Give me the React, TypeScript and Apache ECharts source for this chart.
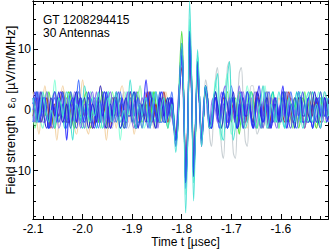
import React, { useEffect, useRef } from "react";
import * as echarts from "echarts";

const FONT = '"Liberation Sans", Arial, Helvetica, sans-serif';

const T0 = -2.1;
const DT = 0.004;
const XMIN = -2.1;
const XMAX = -1.505;
const YMIN = -18;
const YMAX = 18;

const X_MAJOR = [-2.1, -2.0, -1.9, -1.8, -1.7, -1.6];
const X_MINOR = [-2.08, -2.06, -2.04, -2.02, -1.98, -1.96, -1.94, -1.92, -1.88, -1.86, -1.84, -1.82, -1.78, -1.76, -1.74, -1.72, -1.68, -1.66, -1.64, -1.62, -1.58, -1.56, -1.54, -1.52];
const Y_MAJOR = [-10, 0, 10];
const Y_MINOR = [-17.5, -15, -12.5, -7.5, -5, -2.5, 2.5, 5, 7.5, 12.5, 15, 17.5];

const TITLE_1 = "GT 1208294415";
const TITLE_2 = "30 Antennas";

const ant01 = [
  1,3,1,-2,-1,2,2,-1,-3,-2,1,0,-2,1,3,2,-1,-5,-1,1,2,0,-2,1,2,-1,-2,0,3,1,
  -2,-3,0,2,1,-1,1,3,0,-3,-2,2,1,-1,0,2,-1,-2,1,3,2,-2,-3,0,1,-1,2,5,1,-3,
  -1,1,-1,-2,2,3,0,-2,-1,1,2,-2,-5,-1,3,9,2,-12,-3,12,2,-10,-1,7,0,-5,-1,4,1,-2,
  -3,1,2,-1,-2,1,3,0,-3,-1,2,1,-2,-3,1,3,1,-1,0,2,-1,-3,-1,2,4,1,-2,-1,1,-2,
  -3,0,2,1,-1,2,4,-1,-3,-1,1,0,-2,1,3,1,-2,-2,1,2,-1,-3,0,2,1,-1,1,2,-2,-1,
];
const ant02 = [
  -1,-2,1,2,0,-1,1,3,1,-2,-3,0,2,1,-1,-2,1,2,-1,-2,0,3,2,-1,-3,-1,1,0,-1,2,
  3,0,-2,-1,1,-1,-3,0,2,3,1,-2,-1,1,0,-2,-1,2,3,0,-1,1,-1,-3,-1,2,1,-1,1,3,
  1,-2,-3,0,2,1,-1,-2,1,2,-1,-3,-4,1,5,8,-1,-10,-2,11,3,-9,-2,6,1,-4,1,3,-1,-3,
  1,2,0,-2,1,3,-1,-3,-1,2,1,-1,-2,1,4,1,-3,-2,1,0,-1,2,3,0,-2,-3,1,2,0,-1,
  2,1,-2,-3,0,1,-1,1,3,2,-1,-2,0,-1,1,2,-1,-3,-1,2,3,0,-2,-1,1,-1,-2,1,2,0,
];
const ant03 = [
  2,0,-2,-1,1,3,1,-1,-2,0,-1,-3,0,2,1,-1,1,3,2,-2,-5,-1,1,0,-2,1,4,2,-1,-2,
  0,-1,1,3,0,-3,-2,1,2,-1,-2,1,3,1,-2,-1,0,-2,1,5,2,-2,-3,0,1,-1,1,2,-1,-3,
  -1,2,3,0,-2,1,2,-1,-3,-1,1,-2,-7,-3,5,11,2,-17,-5,18,5,-15,-3,10,2,-6,-1,4,1,-3,
  -2,2,4,6,0,-4,-5,0,5,8,1,-5,-3,0,3,2,-1,-3,-2,1,3,1,-2,-3,0,2,4,1,-3,-2,
  1,0,-2,1,3,1,-2,-3,0,2,1,-1,-2,1,3,0,-3,-2,2,3,-1,-2,0,1,-1,-3,1,3,2,-1,
];
const ant04 = [
  -1,1,3,2,-2,-3,0,1,-1,-2,2,5,1,-2,-1,1,-1,-3,0,3,2,-1,-2,0,2,1,-2,-3,1,3,
  2,-1,-1,1,-1,-3,-1,2,3,0,-2,1,2,-1,-5,-2,1,3,1,-1,0,-2,-1,2,4,1,-3,-2,0,2,
  1,-1,-3,0,3,1,-2,-1,2,0,-1,-3,-5,-1,6,10,1,-14,-5,15,4,-12,-2,9,1,-5,0,4,2,-3,
  -3,1,5,2,-3,-5,0,4,6,1,-4,-3,0,2,1,-2,-3,1,4,2,-1,-3,-1,1,0,-2,2,4,0,-3,
  -2,1,2,-1,-3,0,3,2,-1,-1,1,-1,-3,0,2,3,-1,-2,1,2,-1,-3,-2,1,3,1,-1,0,2,-1,
];
const ant05 = [
  0,-2,-1,1,2,0,-1,1,3,1,-2,-3,-1,2,1,-1,-2,1,3,2,-2,-3,0,1,-1,-1,2,3,-1,-3,
  -1,1,0,-2,1,3,1,-2,-3,0,2,1,-1,1,2,-1,-3,-2,1,2,0,-1,2,3,0,-2,-1,1,-1,-2,
  1,3,1,-2,-2,1,2,-1,-3,0,2,-1,-5,-3,7,13,3,-11,-4,10,5,-9,-4,7,2,-4,-1,3,2,-2,
  -2,0,2,1,-1,-3,-1,2,3,0,-2,1,2,-1,-4,-1,1,0,-2,1,3,2,-2,-3,0,1,-1,2,3,0,
  -2,-1,1,-1,-3,0,2,3,0,-2,-1,1,2,-1,-3,-1,2,1,-1,1,3,1,-2,-3,0,2,0,-1,1,2,
];
const ant06 = [
  -1,1,2,0,-2,-1,1,2,-1,-3,-1,1,0,-1,2,3,1,-2,-2,0,1,-1,-2,1,2,0,-1,1,2,-1,
  -3,-2,1,2,1,-1,0,2,-1,-3,-1,2,2,-1,-1,1,0,-2,1,3,1,-2,-3,-1,1,0,-1,2,3,0,
  -2,-1,1,-1,-2,1,3,1,-2,-1,1,-2,-4,-1,4,7,1,-9,-3,9,3,-8,-2,6,1,-4,-1,3,1,-2,
  -2,1,2,-1,-2,1,2,0,-2,-1,1,0,-2,1,3,1,-2,-2,0,1,-1,-2,1,3,1,-1,0,2,-1,-3,
  -1,1,2,0,-1,1,-1,-2,1,3,1,-2,-1,0,2,1,-1,-3,-1,2,1,-1,1,2,-1,-2,0,2,1,-1,
];
const ant07 = [
  1,-1,-2,1,3,1,-2,-1,1,-1,-3,0,2,1,-1,1,3,0,-2,-3,0,2,1,-1,-1,1,-1,-2,1,3,
  1,-2,-1,1,0,-2,1,3,2,-2,-3,0,1,0,-1,2,3,0,-3,-2,1,2,-1,-2,0,2,1,-1,1,3,
  0,-3,-2,1,2,-1,-1,1,-1,-2,1,-2,-5,-2,4,8,2,-10,-4,10,4,-9,-3,7,2,-5,-2,5,3,-4,
  -6,-1,5,7,1,-6,-8,-1,7,8,0,-7,-8,-1,6,7,1,-5,-6,0,4,4,-1,-4,-3,2,4,1,-3,-3,
  0,2,1,-1,-2,1,3,1,-2,-3,0,1,-1,1,3,1,-2,-2,1,2,-1,-3,-1,2,1,-1,1,3,0,-2,
];
const ant08 = [
  3,1,-2,-4,-1,2,4,1,-2,-1,1,-2,-5,-2,2,4,2,-1,1,3,0,-3,-4,-1,2,5,2,-3,-4,0,
  2,1,-1,1,4,2,-2,-5,-2,1,2,-1,-3,0,3,4,1,-2,-1,1,-1,-4,-2,2,4,1,-2,-1,2,3,
  0,-3,-2,1,0,-2,1,3,1,-2,0,-3,-5,-2,4,8,1,-10,-3,10,3,-8,-2,6,1,-4,-1,3,2,-3,
  -2,1,3,1,-1,0,2,-1,-3,-1,2,1,-1,-2,1,3,1,-2,-3,0,2,0,-1,1,2,-1,-3,-1,1,2,
  1,-1,-2,0,2,1,-1,1,3,0,-2,-3,0,1,-1,-2,1,3,1,-1,0,2,-1,-3,-1,1,2,0,-2,1,
];
const ant09 = [
  -2,1,3,1,-1,0,2,-1,-3,-2,1,2,-1,-1,1,3,0,-3,-1,1,-1,-2,2,5,1,-2,-1,1,0,-2,
  1,2,-1,-3,-1,2,3,0,-2,-1,1,-1,-2,1,3,1,-2,-3,0,2,1,-1,1,2,-1,-3,-1,2,1,0,
  -2,1,3,1,-2,-2,0,1,-1,1,3,-1,-6,-2,5,10,2,-13,-4,13,4,-11,-3,8,2,-5,-1,4,1,-3,
  -1,2,3,-1,-3,-1,1,0,-2,1,4,2,-2,-3,0,1,-1,1,3,1,-2,-3,-1,2,1,-1,1,3,0,-3,
  -2,1,2,-1,-2,0,2,1,-1,1,3,1,-2,-3,-1,2,1,-1,1,2,-1,-3,-1,1,2,0,-1,1,-1,-2,
];
const ant10 = [
  1,2,-1,-2,0,2,1,-1,-3,-1,2,3,0,-1,1,-1,-3,-1,2,1,-1,1,3,1,-2,-3,0,1,-1,1,
  2,-1,-3,-1,1,0,-2,1,3,1,-1,0,2,-1,-3,-2,1,2,0,-1,1,3,1,-2,-2,0,1,-1,-2,1,
  3,1,-2,-1,1,-1,-2,1,2,-1,1,-1,-5,-2,5,9,1,-12,-4,14,4,-12,-3,9,2,-5,-1,4,1,-2,
  -3,0,2,1,-1,1,3,0,-3,-2,1,2,-1,-1,1,-1,-3,0,3,2,-1,-2,1,2,-1,-3,-1,1,0,-1,
  2,3,0,-2,-1,1,-1,-3,0,2,1,-1,1,3,0,-2,-1,1,-1,-2,1,3,1,-2,-2,1,2,-1,-1,1,
];
const ant11 = [
  -2,-1,1,3,1,-2,-2,0,1,-1,1,3,0,-3,-2,1,2,-1,-1,1,-1,-2,1,3,2,-1,-3,-1,1,0,
  -1,1,3,0,-2,-1,1,-1,-3,0,2,2,-1,-1,1,-1,-2,1,3,1,-2,-3,0,2,1,-1,1,3,0,-2,
  -1,1,-1,-3,0,2,1,-1,1,2,-1,-2,-4,0,5,9,1,-11,-3,11,3,-10,-3,7,1,-4,0,3,2,-2,
  -2,1,2,-1,-3,0,3,4,0,-2,-1,1,-1,-3,-1,2,3,0,-2,1,2,-1,-3,-1,1,0,-1,2,3,0,
  -2,-2,1,2,-1,-1,1,-1,-3,0,2,1,-1,1,3,1,-2,-2,1,2,-1,-3,-1,2,1,-1,1,2,-1,-2,
];
const ant12 = [
  1,-1,-2,1,2,0,-1,1,-1,-2,1,2,0,-2,-1,1,2,-1,-2,0,1,-1,1,2,0,-2,-1,1,0,-1,
  2,1,-1,-2,1,2,-1,-2,0,1,-1,1,2,0,-2,-1,1,-1,-2,1,2,1,-1,-2,0,1,0,-1,1,2,
  -1,-2,0,1,-1,1,2,0,-2,-1,0,-2,-4,-1,4,7,1,-8,-2,8,2,-7,-2,5,1,-3,0,3,1,-2,
  -1,1,2,0,-2,-1,1,-1,-2,1,2,0,-2,-1,1,2,-1,-2,0,1,-1,1,2,0,-2,-1,1,-1,-2,1,
  2,0,-1,1,-1,-2,1,2,0,-2,-1,1,2,-1,-2,0,1,-1,1,2,0,-2,-1,1,0,-1,2,1,-1,-2,
];
const ant13 = [
  0,2,3,0,-2,-1,1,-1,-3,-1,2,3,1,-2,-1,1,-1,-2,1,3,1,-2,-3,0,2,1,-1,1,2,-1,
  -3,-1,1,0,-2,1,3,2,-1,-2,0,-1,1,3,1,-2,-3,-1,1,0,-2,1,3,1,-2,-1,1,-1,-3,0,
  2,1,-1,1,3,0,-2,-2,1,2,1,-3,-6,-2,5,10,2,-12,-4,12,4,-10,-3,7,2,-5,-1,3,2,-2,
  -3,-1,2,1,-1,1,3,0,-3,-2,1,2,-1,-1,1,-1,-3,0,3,2,-1,-2,0,2,1,-1,-3,-1,2,3,
  0,-2,-1,1,-1,-2,1,3,1,-2,-3,0,2,1,-1,1,3,1,-2,-2,0,1,-1,-2,1,3,1,-1,0,2,
];
const ant14 = [
  -1,-3,-1,1,0,-1,2,3,0,-2,-1,1,-1,-2,1,3,1,-2,-2,0,1,-1,1,3,1,-2,-3,0,2,1,
  -1,1,2,-1,-3,-1,1,0,-2,1,3,1,-2,-1,1,-1,-2,1,2,0,-2,-1,1,2,-1,-3,-1,2,1,-1,
  1,3,0,-2,-1,1,-1,-2,1,2,0,-1,-4,-2,5,10,2,-10,-3,11,3,-9,-2,6,1,-4,-1,3,1,-3,
  -1,1,3,1,-2,-3,0,2,1,-1,1,2,-1,-3,-1,1,0,-2,1,3,1,-2,-1,1,-1,-3,0,2,2,-1,
  1,3,0,-2,-2,1,2,-1,-1,1,-1,-3,0,2,1,-1,1,3,0,-2,-1,1,-1,-2,1,3,1,-2,-2,0,
];
const ant15 = [
  2,0,-2,1,3,1,-2,-3,-1,2,1,-1,1,3,0,-2,-1,1,-1,-3,-1,2,3,0,-2,1,2,-1,-3,-1,
  1,0,-2,1,4,2,-2,-3,0,1,-1,1,3,0,-3,-2,1,2,-1,-1,2,3,0,-3,-1,1,-1,-2,1,3,
  1,-2,-3,0,2,1,-1,1,2,-1,2,-2,-5,-3,5,11,2,-12,-5,13,5,-11,-3,8,1,-6,-1,4,2,-3,
  -2,1,3,1,-1,-3,-1,2,1,-1,1,3,0,-3,-2,1,2,-1,-1,1,-1,-3,0,3,2,-1,-2,1,2,-1,
  -3,-1,1,0,-2,1,3,1,-2,-1,1,-1,-3,0,2,2,-1,-1,1,-1,-2,1,3,1,-2,-3,0,2,1,-1,
];

const TRACES = [
  { values: ant08, color: "#f2cf9f" },
  { values: ant07, color: "#c3cbcf" },
  { values: ant12, color: "#f0a8cc" },
  { values: ant14, color: "#66ff88" },
  { values: ant05, color: "#44dd33" },
  { values: ant10, color: "#00c8c8" },
  { values: ant04, color: "#7fffd4" },
  { values: ant11, color: "#8a6cf0" },
  { values: ant06, color: "#a52a2a" },
  { values: ant09, color: "#3c6cff" },
  { values: ant02, color: "#7b68ee" },
  { values: ant13, color: "#3a4fe8" },
  { values: ant15, color: "#2020d0" },
  { values: ant01, color: "#2a2aff" },
  { values: ant03, color: "#40e0d0" },
];

function toPairs(vals: number[]) {
  return vals.map((v, i) => [+(T0 + i * DT).toFixed(4), v]);
}

const textStyle = { color: "#000", fontSize: 12, fontFamily: FONT };

function xAxisDef(position: string, ticks: number[], len: number, labels: boolean, name?: string) {
  return {
    type: "value",
    gridIndex: 0,
    position,
    min: XMIN,
    max: XMAX,
    name: name || "",
    nameLocation: "middle",
    nameGap: 17,
    nameMoveOverlap: false,
    nameTextStyle: { ...textStyle, lineHeight: 12, padding: [0, 0, 0, 10] },
    axisLine: { show: true, onZero: false, lineStyle: { color: "#000", width: 1 } },
    axisTick: { show: true, inside: true, length: len, customValues: ticks, lineStyle: { color: "#000", width: 1 } },
    axisLabel: labels
      ? { show: true, customValues: X_MAJOR, formatter: (v: number) => v.toFixed(1), margin: 4, lineHeight: 12, ...textStyle }
      : { show: false },
    splitLine: { show: false },
  };
}

function yAxisDef(position: string, ticks: number[], len: number, labels: boolean, name?: string) {
  return {
    type: "value",
    gridIndex: 0,
    position,
    min: YMIN,
    max: YMAX,
    name: name || "",
    nameLocation: "middle",
    nameGap: 16,
    nameMoveOverlap: false,
    nameTextStyle: { ...textStyle, fontSize: 13, lineHeight: 13 },
    axisLine: { show: true, onZero: false, lineStyle: { color: "#000", width: 1 } },
    axisTick: { show: true, inside: true, length: len, customValues: ticks, lineStyle: { color: "#000", width: 1 } },
    axisLabel: labels
      ? { show: true, customValues: Y_MAJOR, formatter: (v: number) => String(v), margin: 2, ...textStyle }
      : { show: false },
    splitLine: { show: false },
  };
}

export default function App() {
  const ref = useRef<HTMLDivElement>(null);
  useEffect(() => {
    if (!ref.current) return;
    const chart = echarts.init(ref.current, null, { renderer: "svg" });
    chart.setOption({
      animation: false,
      backgroundColor: "#fff",
      grid: { left: 33, right: 1, top: 1, bottom: 30, containLabel: false, outerBoundsMode: "none" },
      xAxis: [
        xAxisDef("bottom", X_MAJOR, 5, true, "Time t [µsec]"),
        xAxisDef("bottom", X_MINOR, 3, false),
        xAxisDef("top", X_MAJOR, 5, false),
        xAxisDef("top", X_MINOR, 3, false),
      ],
      yAxis: [
        yAxisDef("left", Y_MAJOR, 5, true, "Field strength  ε₀ [µV/m/MHz]"),
        yAxisDef("left", Y_MINOR, 3, false),
        yAxisDef("right", Y_MAJOR, 5, false),
        yAxisDef("right", Y_MINOR, 3, false),
      ],
      graphic: [
        { type: "text", left: 43, top: 14, z: 100, style: { text: TITLE_1, font: '12px "Liberation Sans", Arial, sans-serif', fill: "#000" } },
        { type: "text", left: 43, top: 27, z: 100, style: { text: TITLE_2, font: '12px "Liberation Sans", Arial, sans-serif', fill: "#000" } },
      ],
      series: TRACES.map((tr, k) => ({
        type: "line",
        name: "ant" + k,
        xAxisIndex: 0,
        yAxisIndex: 0,
        data: toPairs(tr.values),
        showSymbol: false,
        symbol: "none",
        smooth: 0.4,
        clip: true,
        lineStyle: { color: tr.color, width: 1.1, opacity: 0.9 },
        itemStyle: { color: tr.color },
        z: 2,
      })),
    });
    return () => chart.dispose();
  }, []);
  return <div ref={ref} style={{ position: "fixed", left: 0, top: 0, width: 329, height: 249 }} />;
}
